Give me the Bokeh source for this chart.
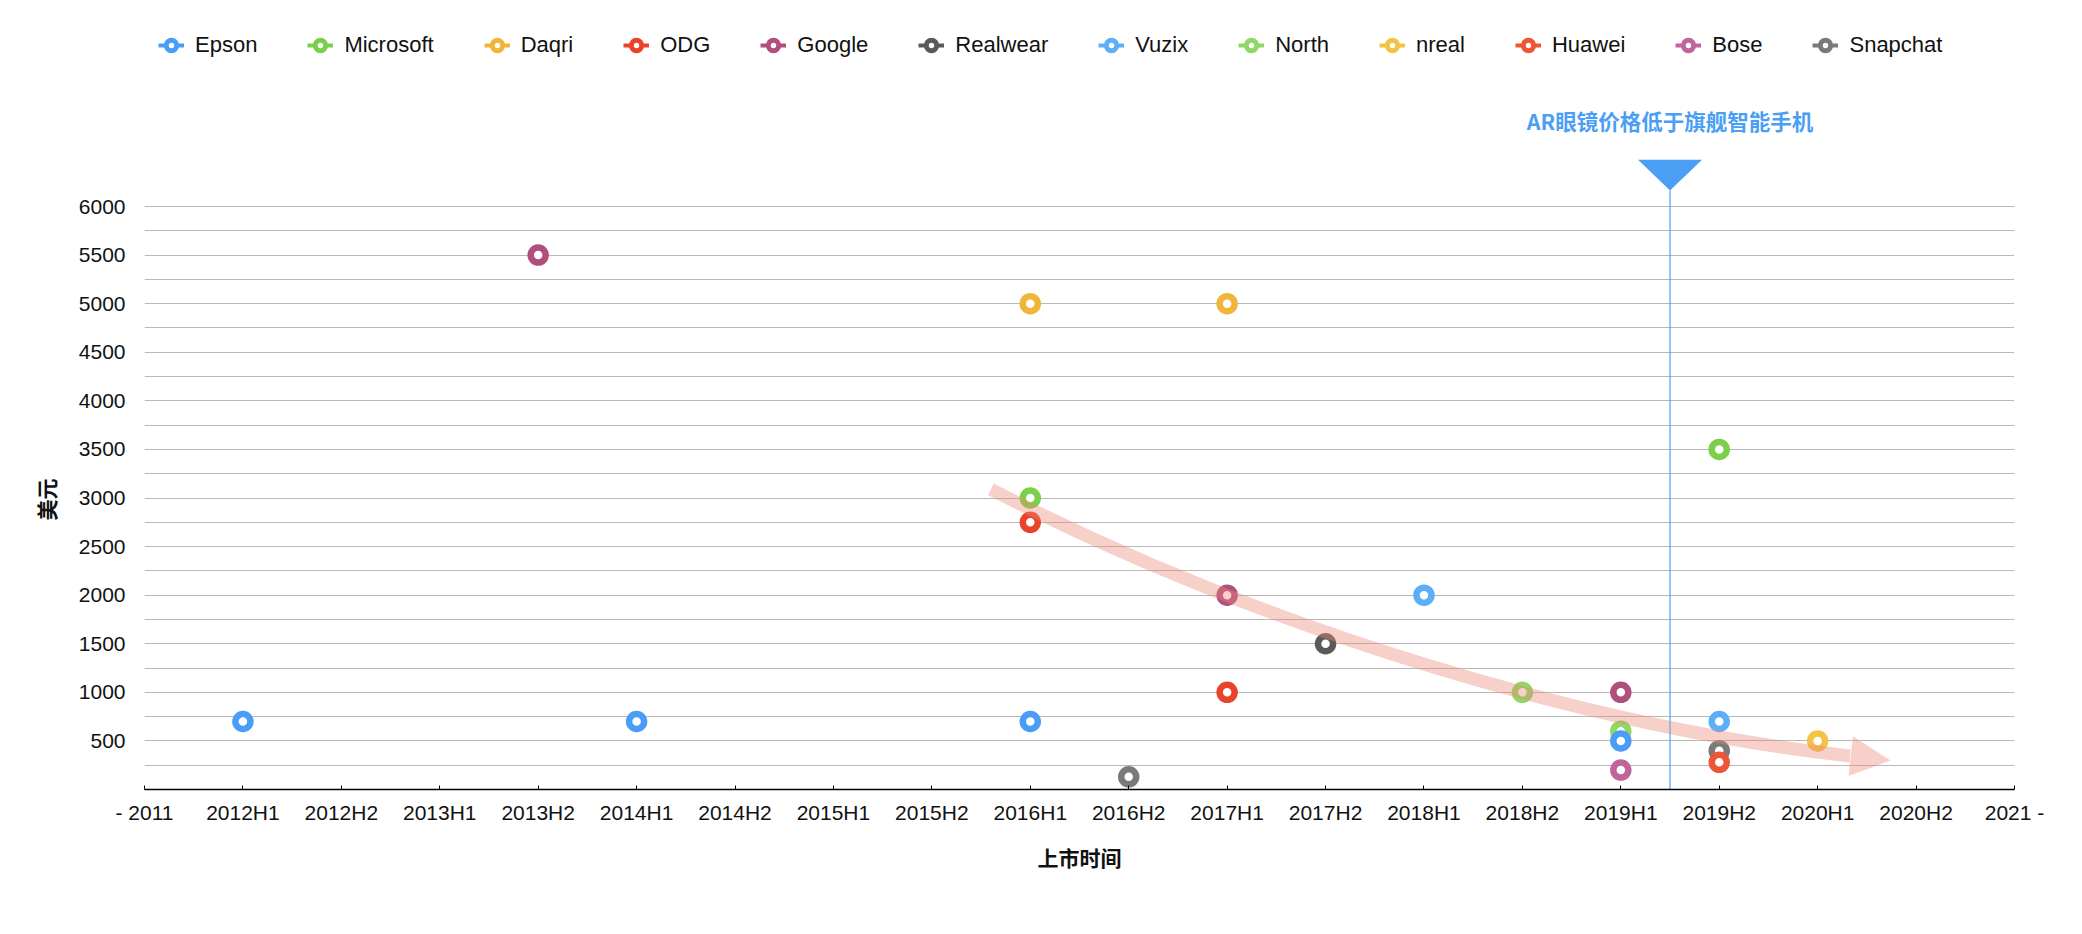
from bokeh.plotting import figure
from bokeh.models import (ColumnDataSource, FixedTicker, Range1d, Legend, LegendItem,
                          Label, Arrow, NormalHead, Title)
from bokeh.embed import file_html
from bokeh.resources import INLINE

# ---------------- data ----------------
periods = ["- 2011", "2012H1", "2012H2", "2013H1", "2013H2", "2014H1", "2014H2",
           "2015H1", "2015H2", "2016H1", "2016H2", "2017H1", "2017H2", "2018H1",
           "2018H2", "2019H1", "2019H2", "2020H1", "2020H2", "2021 -"]

brands = ["Epson", "Microsoft", "Daqri", "ODG", "Google", "Realwear",
          "Vuzix", "North", "nreal", "Huawei", "Bose", "Snapchat"]

epson_periods = ["2012H1", "2014H1", "2016H1", "2019H1"]
epson_prices = [700, 700, 700, 500]
microsoft_periods = ["2016H1", "2019H2"]
microsoft_prices = [3000, 3500]
daqri_periods = ["2016H1", "2017H1"]
daqri_prices = [5000, 5000]
odg_periods = ["2016H1", "2017H1"]
odg_prices = [2750, 1000]
google_periods = ["2013H2", "2017H1", "2019H1"]
google_prices = [5500, 2000, 1000]
realwear_periods = ["2017H2"]
realwear_prices = [1500]
vuzix_periods = ["2018H1", "2019H2"]
vuzix_prices = [2000, 700]
north_periods = ["2018H2", "2019H1"]
north_prices = [1000, 600]
nreal_periods = ["2020H1"]
nreal_prices = [500]
huawei_periods = ["2019H2"]
huawei_prices = [280]
bose_periods = ["2019H1"]
bose_prices = [200]
snapchat_periods = ["2016H2", "2019H2"]
snapchat_prices = [130, 400]

y_tick_values = [500, 1000, 1500, 2000, 2500, 3000, 3500, 4000, 4500, 5000, 5500, 6000]
y_grid_values = [250, 500, 750, 1000, 1250, 1500, 1750, 2000, 2250, 2500, 2750, 3000,
                 3250, 3500, 3750, 4000, 4250, 4500, 4750, 5000, 5250, 5500, 5750, 6000]

threshold_text = "AR眼镜价格低于旗舰智能手机"
x_title = "上市时间"
y_title = "美元"

# ---------------- styles ----------------
brand_colors = ["#4A9DF7", "#7CCF4A", "#F0B63A", "#E9442B", "#B04E7E", "#5A5A5A",
                "#5AAFF6", "#8ED863", "#F4C345", "#EE5535", "#C0659B", "#7A7A7A"]
series = {
    "Epson": (epson_periods, epson_prices),
    "Microsoft": (microsoft_periods, microsoft_prices),
    "Daqri": (daqri_periods, daqri_prices),
    "ODG": (odg_periods, odg_prices),
    "Google": (google_periods, google_prices),
    "Realwear": (realwear_periods, realwear_prices),
    "Vuzix": (vuzix_periods, vuzix_prices),
    "North": (north_periods, north_prices),
    "nreal": (nreal_periods, nreal_prices),
    "Huawei": (huawei_periods, huawei_prices),
    "Bose": (bose_periods, bose_prices),
    "Snapchat": (snapchat_periods, snapchat_prices),
}
color_of = dict(zip(brands, brand_colors))

ANNOT_BLUE = "#4A9FF5"
TREND_COLOR = "#E98A78"
LATIN = "Liberation Sans"
CJK = "Noto Sans CJK SC"

W, H = 2074, 926
BL, BR, BT, BB = 144, 60, 18, 137
frame_h = H - BT - BB
Y_END = 6000 * frame_h / 583.0

p = figure(width=W, height=H, min_border_left=BL, min_border_right=BR,
           min_border_top=BT, min_border_bottom=BB,
           x_range=Range1d(0, len(periods) - 1), y_range=Range1d(0, Y_END),
           output_backend="svg", toolbar_location=None, tools="")
p.outline_line_color = None
p.background_fill_color = "white"
p.border_fill_color = "white"

# x axis
xa = p.xaxis[0]
xa.ticker = FixedTicker(ticks=list(range(len(periods))))
xa.major_label_overrides = {i: lab for i, lab in enumerate(periods)}
xa.axis_label = x_title
xa.axis_label_text_font = CJK
xa.axis_label_text_font_style = "bold"
xa.axis_label_text_font_size = "21px"
xa.axis_label_text_color = "#111111"
xa.axis_label_standoff = 15
xa.major_label_text_font = LATIN
xa.major_label_text_font_size = "21px"
xa.major_label_text_color = "#111111"
xa.major_label_standoff = 11
xa.axis_line_color = "#000000"
xa.axis_line_width = 1.5
xa.major_tick_line_color = "#000000"
xa.major_tick_line_width = 1
xa.major_tick_in = 4
xa.major_tick_out = 0
xa.minor_tick_line_color = None

# y axis
ya = p.yaxis[0]
ya.ticker = FixedTicker(ticks=y_tick_values)
ya.axis_line_color = None
ya.major_tick_line_color = None
ya.minor_tick_line_color = None
ya.major_tick_in = 0
ya.major_tick_out = 0
ya.major_label_standoff = 19
ya.major_label_text_font = LATIN
ya.major_label_text_font_size = "21px"
ya.major_label_text_color = "#111111"

# y title, centred on the 0..6000 part of the axis
p.add_layout(Title(text=y_title, align="left", vertical_align="bottom", offset=269,
                   standoff=30, text_font=CJK, text_font_style="bold",
                   text_font_size="21px", text_color="#111111"), "left")

p.xgrid.visible = False
p.ygrid.ticker = FixedTicker(ticks=y_grid_values)
p.ygrid.grid_line_color = "#B8B8B8"
p.ygrid.grid_line_width = 1

# threshold line + marker
thr_x = 15.5
tip_y, top_y, half_w = 6164, 6480, 0.325
p.segment(x0=[thr_x], y0=[0], x1=[thr_x], y1=[tip_y], line_color=ANNOT_BLUE, line_width=1.2)
p.patch(x=[thr_x - half_w, thr_x + half_w, thr_x], y=[top_y, top_y, tip_y],
        fill_color=ANNOT_BLUE, line_color=None)
p.add_layout(Label(x=thr_x, y=6885, text=threshold_text, text_align="center",
                   text_baseline="middle", text_font=CJK, text_font_style="bold",
                   text_font_size="21.5px", text_color=ANNOT_BLUE))

# data points (drawn in reverse series order like the original)
for name in reversed(brands):
    per, prices = series[name]
    src = ColumnDataSource(dict(x=[periods.index(q) for q in per], y=prices))
    p.scatter("x", "y", source=src, marker="circle", size=15, fill_color="white",
              line_color=color_of[name], line_width=6.5)

# trend arrow
t0 = (8.6, 3090)
c0 = (11.4, 1634)
c1 = (14.7, 636)
t3 = (17.33, 345)
tip = (17.74, 298)
p.bezier(x0=[t0[0]], y0=[t0[1]], x1=[t3[0]], y1=[t3[1]],
         cx0=[c0[0]], cy0=[c0[1]], cx1=[c1[0]], cy1=[c1[1]],
         line_color=TREND_COLOR, line_alpha=0.4, line_width=13)
p.add_layout(Arrow(end=NormalHead(size=40, fill_color=TREND_COLOR, fill_alpha=0.4,
                                  line_color=None),
                   x_start=t3[0], y_start=t3[1], x_end=tip[0], y_end=tip[1],
                   line_alpha=0))

# legend: proxy glyphs placed outside the visible range, sized like the original legend
items = []
for name in brands:
    proxy = ColumnDataSource(dict(x=[-50], y=[-5000]))
    lr = p.line("x", "y", source=proxy, line_color=color_of[name], line_width=4)
    sr = p.scatter("x", "y", source=proxy, marker="circle", size=10, fill_color="white",
                   line_color=color_of[name], line_width=5)
    items.append(LegendItem(label=name, renderers=[lr, sr]))
legend = Legend(items=items, orientation="horizontal", location="top_left",
                glyph_width=26, glyph_height=26, label_standoff=11, spacing=50,
                padding=6, margin=14, border_line_color=None,
                background_fill_alpha=0, label_text_font=LATIN,
                label_text_font_size="22px", label_text_color="#111111")
p.add_layout(legend)

open("out.html", "w", encoding="utf-8").write(file_html(p, INLINE))
